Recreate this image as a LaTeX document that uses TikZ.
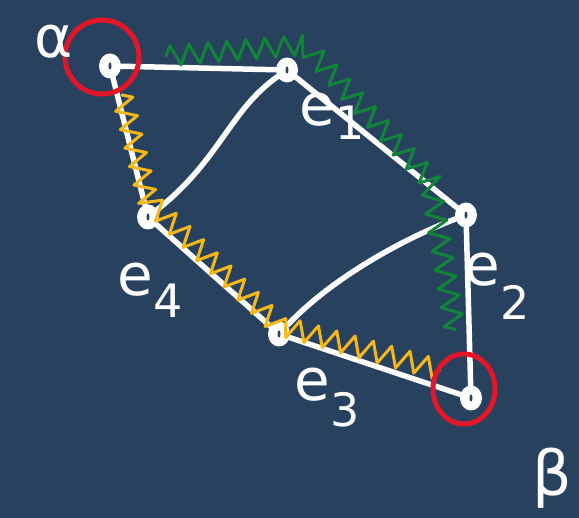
\documentclass[tikz,border=0pt]{standalone}
\usepackage{fontspec}
\setsansfont{DejaVu Sans}
\usetikzlibrary{decorations.pathmorphing,shapes.geometric}
\definecolor{board}{RGB}{39,65,94}
\definecolor{chalkgreen}{RGB}{16,132,56}
\definecolor{chalkyellow}{RGB}{246,183,24}
\definecolor{chalkred}{RGB}{226,22,40}
\newcommand{\hand}[2]{e\raisebox{-#2}{\fontsize{46}{46}\selectfont #1}}
\tikzset{
    vertex/.style={ellipse, fill=white, inner sep=0pt, minimum width=22pt, minimum height=25pt},
    edge/.style={white, line width=5.5pt, line cap=round},
    wiggle/.style={line width=3pt, line cap=round, line join=round, decorate,
        decoration={zigzag, segment length=19pt, amplitude=10pt}},
    ring/.style={chalkred, line width=5pt},
    lbl/.style={white, inner sep=0pt, font=\sffamily\fontsize{58}{58}\selectfont}
}
\begin{document}
\begin{tikzpicture}[x=1pt, y=-1pt]
        % Board
        \fill [board] (0,0) rectangle (579,518);
        \useasboundingbox (0,0) rectangle (579,518);

        % Vertices
        \node [vertex] (a) at (110,66) {};
        \node [vertex] (t) at (287,70) {};
        \node [vertex] (r) at (466,215) {};
        \node [vertex] (b) at (471,398) {};
        \node [vertex] (m) at (279,334) {};
        \node [vertex] (l) at (148,217) {};

        % Edges
        \draw [edge] (a) -- (t);
        \draw [edge] (t) -- (r);
        \draw [edge] (r) -- (b);
        \draw [edge] (b) -- (m);
        \draw [edge] (m) -- (l);
        \draw [edge] (l) -- (a);
        \draw [edge] (t) .. controls (230,110) and (220,160) .. (l);
        \draw [edge] (r) .. controls (400,240) and (330,280) .. (m);

        % Small marks on the vertices
        \foreach \v in {a,t,r,b,m,l}
            \fill [board] (\v.center) ellipse (1.5pt and 3.5pt);

        % Green path alpha -> e1 -> e2
        \coordinate (g0) at (166,56);
        \coordinate (g1) at (305,45);
        \coordinate (g2) at (430,180);
        \coordinate (g3) at (455,330);
        \draw [wiggle, chalkgreen] (g0) -- (g1) -- (g2) -- (g3);

        % Yellow path alpha -> e4 -> e3
        \coordinate (y0) at (122,95);
        \coordinate (y1) at (148,200);
        \coordinate (y2) at (278,325);
        \coordinate (y3) at (440,370);
        \draw [wiggle, chalkyellow] (y0) -- (y1) -- (y2) -- (y3);

        % Start and end circled
        \draw [ring] (102,57) circle (37);
        \draw [ring] (464,389) ellipse (31 and 35);

        % Labels
        \node [lbl] (alpha) at (54,42) {α};
        \node [lbl, font=\sffamily\fontsize{62}{62}\selectfont] (beta) at (552,478) {β};
        \node [lbl] (e1) at (332,116) {\hand{1}{14pt}};
        \node [lbl] (e2) at (497,286) {\hand{2}{34pt}};
        \node [lbl] (e3) at (327,398) {\hand{3}{26pt}};
        \node [lbl] (e4) at (150,290) {\hand{4}{22pt}};
    \end{tikzpicture}
\end{document}
